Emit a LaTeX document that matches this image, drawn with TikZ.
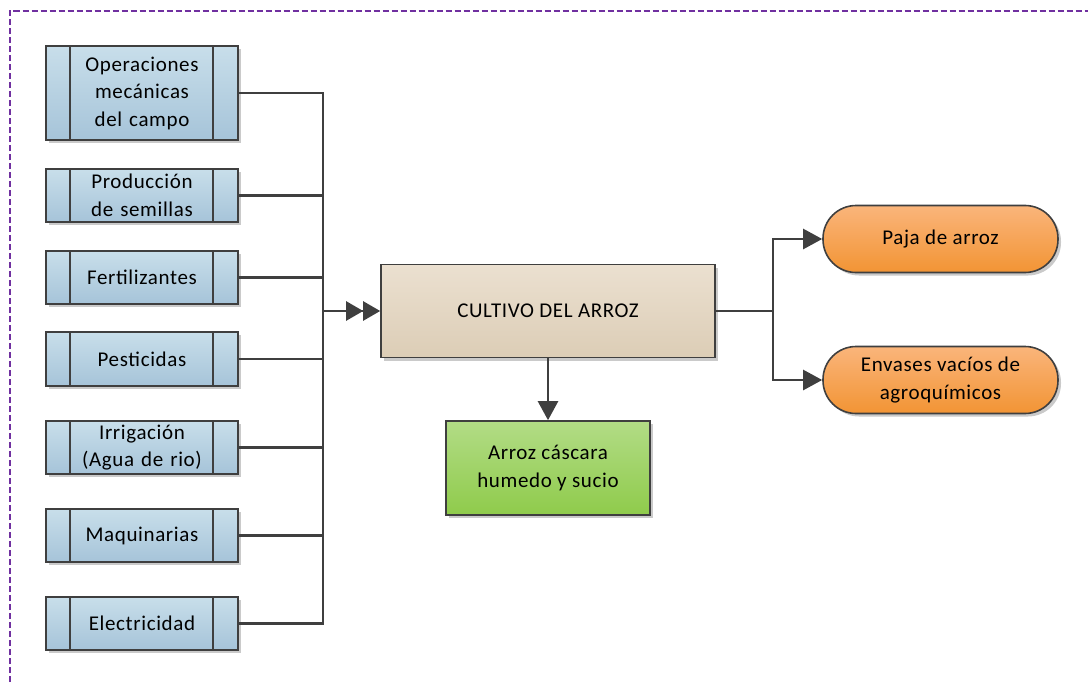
\documentclass[tikz,border=0pt]{standalone}
\usepackage{fontspec}
\setmainfont[LetterSpace=3]{Carlito}
\usetikzlibrary{arrows.meta,shadows}
\definecolor{edgegray}{HTML}{3F3F3F}
\definecolor{frameviolet}{HTML}{7030A0}
\definecolor{blueTop}{HTML}{C8DEEA}
\definecolor{blueBot}{HTML}{A6C4D9}
\definecolor{beigeTop}{HTML}{EBE0D0}
\definecolor{beigeBot}{HTML}{DCCDB6}
\definecolor{greenTop}{HTML}{B2DC86}
\definecolor{greenBot}{HTML}{8FCB4B}
\definecolor{orangeTop}{HTML}{FAB57B}
\definecolor{orangeBot}{HTML}{F29434}
\tikzset{
  softshadow/.style={drop shadow={shadow xshift=3pt,shadow yshift=-3pt,opacity=0.35,fill=black!60}},
  boxbase/.style={draw=edgegray,line width=1.6pt,softshadow,align=center,
    font=\fontsize{21}{27.5}\selectfont,inner sep=0pt},
  procbox/.style={boxbase,top color=blueTop,bottom color=blueBot,
    minimum width=192pt,text width=150pt,
    path picture={
      \draw[edgegray,line width=1.4pt]
        ([xshift=24pt]path picture bounding box.north west) --
        ([xshift=24pt]path picture bounding box.south west)
        ([xshift=-25pt]path picture bounding box.north east) --
        ([xshift=-25pt]path picture bounding box.south east);}},
  mainbox/.style={boxbase,top color=beigeTop,bottom color=beigeBot,
    minimum width=334pt,minimum height=93pt},
  outbox/.style={boxbase,top color=greenTop,bottom color=greenBot,
    minimum width=204pt,minimum height=94pt},
  pillbox/.style={boxbase,top color=orangeTop,bottom color=orangeBot,
    rounded corners=33pt,minimum width=235pt,minimum height=67pt},
  link/.style={draw=edgegray,line width=2.4pt},
  arr/.style={link,-{Triangle[length=19pt,width=20pt]}},
  dblarr/.style={link,-{Triangle[length=17pt,width=19pt] Triangle[length=17pt,width=19pt]}}
}
\begin{document}
\begin{tikzpicture}[x=1pt,y=-1pt]
\useasboundingbox (0,0) rectangle (1088,685);
% dashed frame along the top and left edges
\draw[frameviolet,line width=2pt,dash pattern=on 6pt off 3pt] (9.5,700) -- (9.5,11) -- (1100,11);

% input processes
\node[procbox,minimum height=94pt] (ops) at (142,93) {Operaciones\\mecánicas\\del campo};
\node[procbox,minimum height=53pt] (sem) at (142,195.5) {Producción\\de semillas};
\node[procbox,minimum height=53pt] (fer) at (142,277.5) {Fertilizantes};
\node[procbox,minimum height=54pt] (pes) at (142,359) {Pesticidas};
\node[procbox,minimum height=53pt] (irr) at (142,447.5) {Irrigación\\(Agua de rio)};
\node[procbox,minimum height=53pt] (maq) at (142,535.5) {Maquinarias};
\node[procbox,minimum height=53pt] (ele) at (142,623.5) {Electricidad};

% central process and outputs
\node[mainbox] (cul) at (548,311) {CULTIVO DEL ARROZ};
\node[outbox] (arz) at (548,468) {Arroz cáscara\\humedo y sucio};
\node[pillbox] (paj) at (940.5,239) {Paja de arroz};
\node[pillbox] (env) at (940.5,380) {Envases vacíos de\\agroquímicos};

% collector bus and splitter, level with the central box
\coordinate (bus) at (323,311);
\coordinate (split) at (773,311);

\foreach \n in {ops,sem,fer,pes,irr,maq,ele}
  \draw[link] (\n.east) -| (bus);
\draw[dblarr] (bus) -- (cul.west);
\draw[arr] (cul.south) -- (arz.north);
\draw[link] (cul.east) -- (split);
\draw[arr] (split) |- (paj.west);
\draw[arr] (split) |- (env.west);
\end{tikzpicture}
\end{document}
